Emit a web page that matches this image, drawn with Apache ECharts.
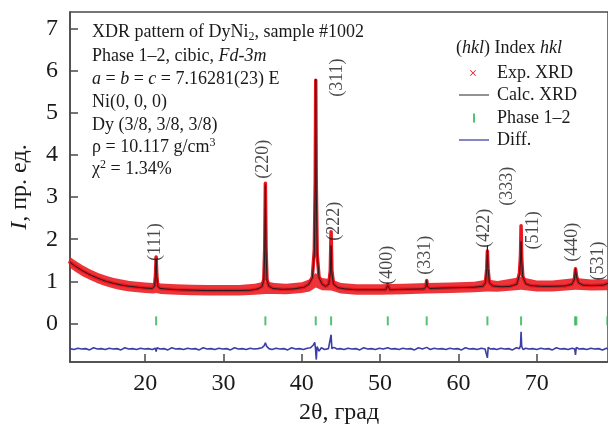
<!DOCTYPE html>
<html>
<head>
<meta charset="utf-8">
<script src="https://cdn.jsdelivr.net/npm/echarts@6/dist/echarts.min.js"></script>
<style>
html,body{margin:0;padding:0;background:#fff;}
#chart{width:608px;height:430px;}
</style>
</head>
<body>
<div id="chart"></div>
<script>
// ---- data ----
const twoTheta = [10.4,11,12,13,14,15,16,17,18,19,20,20.9,21.2,21.32,21.4,21.48,21.6,21.9,22.5,24,26,28,30,32,33.5,34.4,34.9,35.15,35.27,35.35,35.43,35.55,35.8,36.3,37.5,39,40.3,40.9,41.35,41.6,41.72,41.78,41.84,41.96,42.2,42.6,43.05,43.45,43.64,43.74,43.84,44.05,44.6,45.5,47,49,50.7,50.98,51.25,53,55.6,55.85,55.95,56.05,56.35,58,60,62,63.1,63.45,63.62,63.7,63.78,63.95,64.4,65.5,66.6,67.45,67.8,67.93,68,68.08,68.22,68.6,69.2,70.5,72,73.6,74.5,74.82,74.95,75.08,75.35,75.9,77,78.5,78.92,79.05,79.15];
const calcI = [1.45,1.37,1.25,1.15,1.07,1.00,0.95,0.91,0.88,0.86,0.84,0.83,0.88,1.12,1.53,1.12,0.88,0.83,0.82,0.80,0.79,0.78,0.78,0.78,0.79,0.82,0.87,1.02,1.75,3.30,1.75,1.02,0.88,0.83,0.81,0.82,0.86,0.93,1.08,1.65,3.3,5.80,3.3,1.65,1.08,0.93,0.88,0.93,1.2,1.85,1.2,0.93,0.85,0.82,0.80,0.80,0.80,0.90,0.80,0.81,0.82,0.87,1.02,0.87,0.83,0.84,0.85,0.86,0.88,0.96,1.3,1.85,1.3,0.96,0.89,0.87,0.88,0.93,1.15,1.5,1.95,1.45,1.1,0.94,0.90,0.88,0.88,0.89,0.93,1.05,1.30,1.1,0.96,0.91,0.90,0.91,0.94,0.97,0.95];
const expI = [1.45,1.37,1.25,1.15,1.07,1.00,0.95,0.91,0.88,0.86,0.84,0.83,0.90,1.15,1.58,1.15,0.90,0.83,0.82,0.80,0.79,0.78,0.78,0.78,0.79,0.82,0.88,1.05,1.80,3.33,1.80,1.05,0.89,0.83,0.81,0.82,0.86,0.94,1.10,1.75,3.4,5.78,3.4,1.65,1.10,0.94,0.88,0.94,1.25,2.18,1.25,0.94,0.85,0.82,0.80,0.80,0.80,0.92,0.80,0.81,0.82,0.88,1.02,0.88,0.83,0.84,0.85,0.86,0.88,0.97,1.3,1.72,1.3,0.97,0.89,0.87,0.88,0.94,1.2,1.62,2.32,1.55,1.12,0.94,0.90,0.88,0.88,0.89,0.93,1.06,1.30,1.12,0.96,0.91,0.90,0.91,0.94,0.96,0.94];
const bandTheta = [10.4,11,12,13,14,15,16,17,18,19,20,21,21.4,22,24,26,28,30,32,34,35.35,36.5,38,40,41,41.78,42.6,43.74,45,47,50,53,56,59,62,63.7,65,68,70,72,75,77,79.1];
const bandLow = [1.32,1.24,1.12,1.03,0.95,0.88,0.83,0.79,0.76,0.74,0.72,0.71,0.72,0.70,0.68,0.67,0.66,0.66,0.66,0.68,0.70,0.70,0.69,0.72,0.76,0.85,0.79,0.78,0.71,0.68,0.68,0.69,0.71,0.72,0.74,0.76,0.75,0.80,0.76,0.76,0.80,0.78,0.79];
const bandHigh = [1.58,1.50,1.38,1.28,1.20,1.13,1.08,1.04,1.01,0.99,0.97,0.96,0.98,0.95,0.93,0.92,0.91,0.91,0.91,0.94,1.00,0.96,0.94,0.98,1.05,1.20,1.08,1.05,0.96,0.93,0.93,0.94,0.96,0.97,0.99,1.04,1.01,1.10,1.02,1.02,1.08,1.04,1.05];
const diffTheta = [10.4,10.9,11.4,11.9,12.4,12.9,13.4,13.9,14.4,14.9,15.4,15.9,16.4,16.9,17.4,17.9,18.4,18.9,19.4,19.9,20.4,20.9,21.3,21.4,21.5,21.9,22.4,22.9,23.4,23.9,24.4,24.9,25.4,25.9,26.4,26.9,27.4,27.9,28.4,28.9,29.4,29.9,30.4,30.9,31.4,31.9,32.4,32.9,33.4,33.9,34.4,34.9,35.2,35.35,35.5,35.8,36.2,36.7,37.2,37.7,38.2,38.7,39.2,39.7,40.2,40.7,41.1,41.45,41.65,41.75,41.85,41.95,42.2,42.5,42.9,43.4,43.65,43.74,43.84,44.1,44.5,44.9,45.4,45.9,46.4,46.9,47.4,47.9,48.4,48.9,49.4,49.9,50.4,50.98,51.4,51.9,52.4,52.9,53.4,53.9,54.4,54.9,55.4,55.95,56.4,56.9,57.4,57.9,58.4,58.9,59.4,59.9,60.4,60.9,61.4,61.9,62.4,62.9,63.4,63.62,63.7,63.8,64.1,64.5,64.9,65.4,65.9,66.4,66.9,67.4,67.8,67.93,68,68.08,68.25,68.6,69,69.5,70,70.5,71,71.5,72,72.5,73,73.5,74,74.5,74.85,74.95,75.05,75.4,75.9,76.4,76.9,77.4,77.9,78.4,78.9,79.15];
const diffI = [-0.60,-0.62,-0.59,-0.61,-0.60,-0.63,-0.58,-0.61,-0.60,-0.62,-0.59,-0.61,-0.60,-0.63,-0.58,-0.61,-0.60,-0.62,-0.59,-0.61,-0.60,-0.62,-0.59,-0.67,-0.58,-0.61,-0.60,-0.63,-0.58,-0.61,-0.60,-0.62,-0.59,-0.61,-0.60,-0.63,-0.58,-0.61,-0.60,-0.62,-0.59,-0.61,-0.60,-0.63,-0.58,-0.61,-0.60,-0.62,-0.59,-0.61,-0.60,-0.58,-0.53,-0.46,-0.54,-0.60,-0.62,-0.59,-0.61,-0.60,-0.63,-0.58,-0.61,-0.60,-0.62,-0.59,-0.58,-0.52,-0.45,-0.60,-0.86,-0.55,-0.66,-0.58,-0.62,-0.60,-0.56,-0.27,-0.60,-0.57,-0.61,-0.60,-0.62,-0.59,-0.61,-0.60,-0.63,-0.58,-0.61,-0.60,-0.62,-0.59,-0.61,-0.58,-0.61,-0.60,-0.62,-0.59,-0.61,-0.60,-0.63,-0.58,-0.61,-0.57,-0.62,-0.59,-0.61,-0.60,-0.62,-0.59,-0.61,-0.60,-0.63,-0.58,-0.61,-0.60,-0.62,-0.59,-0.61,-0.58,-0.82,-0.57,-0.61,-0.60,-0.62,-0.59,-0.61,-0.60,-0.63,-0.58,-0.60,-0.52,-0.20,-0.55,-0.62,-0.59,-0.61,-0.60,-0.62,-0.59,-0.61,-0.60,-0.63,-0.58,-0.61,-0.60,-0.62,-0.59,-0.61,-0.75,-0.57,-0.61,-0.60,-0.62,-0.59,-0.61,-0.60,-0.63,-0.59,-0.61];
const phaseTheta = [21.40,35.35,41.78,43.74,50.98,55.95,63.70,68.00,74.90,75.06,79.02,79.12];
const phaseLevel = 0.06;
const hklNames = ['(111)','(220)','(311)','(222)','(400)','(331)','(422)','(333)','(511)','(440)','(531)'];
const hklX = [21.3,35.1,44.5,44.15,50.9,55.75,63.3,66.2,69.5,74.6,77.8];
const hklY = [1.93,3.90,5.84,2.43,1.38,1.62,2.26,3.26,2.21,1.93,1.48];
const xTicks = [20,30,40,50,60,70];
const yTicks = [0,1,2,3,4,5,6,7];

// ---- styles ----
const SERIF = 'Liberation Serif';
const AX = '#4a4a4a';
const TXT = '#1a1a1a';
const RED = '#e8161f';
const BAND = 'rgba(234,30,36,0.9)';
const GREEN = '#2bb350';
const BLUE = '#3a3ea6';
const CALC = '#1e1e1e';
const crossIcon = 'path://M0,1L1,0L5,4L9,0L10,1L6,5L10,9L9,10L5,6L1,10L0,9L4,5Z';

const zip = (a, b) => a.map((v, i) => [v, b[i]]);

const chart = echarts.init(document.getElementById('chart'), null, {renderer: 'canvas'});

const annot = [
  {y: 32.5, text: 'XDR pattern of DyNi{sub|2}, sample #1002'},
  {y: 55.8, text: 'Phase 1\u20132, cibic, {i|Fd-3m}'},
  {y: 79.5, text: '{i|a} = {i|b} = {i|c} = 7.16281(23) E'},
  {y: 102.5, text: 'Ni(0, 0, 0)'},
  {y: 125.3, text: 'Dy (3/8, 3/8, 3/8)'},
  {y: 147.6, text: '\u03c1 = 10.117 g/cm{sup|3}'},
  {y: 169.5, text: '\u03c7{sup|2} = 1.34%'}
];
const richBase = {
  i: {fontStyle: 'italic', fontSize: 18, fontFamily: SERIF, fill: TXT, lineHeight: 22},
  sub: {fontSize: 12, fontFamily: SERIF, fill: TXT, lineHeight: 12, padding: [8, 0, 0, 0]},
  sup: {fontSize: 12, fontFamily: SERIF, fill: TXT, lineHeight: 12, padding: [0, 0, 10, 0]}
};
const graphics = annot.map(a => ({
  type: 'text', x: 92, y: a.y, silent: true, z: 100,
  style: {text: a.text, fontSize: 18, fontFamily: SERIF, fill: TXT, lineHeight: 22,
          verticalAlign: 'middle', align: 'left', rich: richBase}
}));
graphics.push({
  type: 'text', x: 456, y: 48, silent: true, z: 100,
  style: {text: '({i|hkl}) Index {i|hkl}', fontSize: 18, fontFamily: SERIF, fill: TXT, lineHeight: 22,
          verticalAlign: 'middle', align: 'left', rich: richBase}
});

const legendText = (pad) => ({fontSize: 18, fontFamily: SERIF, color: TXT, lineHeight: 18, padding: [0, 0, 0, pad]});

const option = {
  animation: false,
  backgroundColor: '#fff',
  grid: {left: 69, top: 12, right: -1, bottom: 67, show: true, borderColor: AX, borderWidth: 1.5, containLabel: false},
  xAxis: {
    type: 'value', min: 10.4, max: 79.1,
    name: '2\u03b8, \u0433\u0440\u0430\u0434', nameLocation: 'middle', nameGap: 25,
    nameTextStyle: {fontSize: 24, fontFamily: SERIF, color: TXT},
    axisLine: {show: true, onZero: false, lineStyle: {color: AX, width: 1.5}},
    axisTick: {show: true, inside: true, length: 8, customValues: xTicks, lineStyle: {color: AX, width: 1.5}},
    axisLabel: {customValues: xTicks, fontSize: 24, fontFamily: SERIF, color: TXT, margin: 10},
    splitLine: {show: false}
  },
  yAxis: {
    type: 'value', min: -0.92, max: 7.4,
    name: '{i|I}, \u043f\u0440. \u0435\u0434.', nameLocation: 'middle', nameGap: 38,
    nameTextStyle: {fontSize: 24, fontFamily: SERIF, color: TXT,
      rich: {i: {fontStyle: 'italic', fontSize: 24, fontFamily: SERIF, color: TXT}}},
    axisLine: {show: true, onZero: false, lineStyle: {color: AX, width: 1.5}},
    axisTick: {show: true, inside: true, length: 8, customValues: yTicks, lineStyle: {color: AX, width: 1.5}},
    axisLabel: {customValues: yTicks, fontSize: 24, fontFamily: SERIF, color: TXT, margin: 12},
    splitLine: {show: false}
  },
  legend: [
    {data: [{name: 'Exp. XRD', icon: crossIcon, itemStyle: {color: RED}}], left: 470, top: 64, orient: 'vertical', padding: 0,
     itemWidth: 6, itemHeight: 6, selectedMode: false, textStyle: legendText(16)},
    {data: [{name: 'Calc. XRD', icon: 'rect', itemStyle: {color: '#6e6e6e'}}], left: 459, top: 86, orient: 'vertical', padding: 0,
     itemWidth: 30, itemHeight: 1.5, selectedMode: false, textStyle: legendText(3)},
    {data: [{name: 'Phase 1\u20132', icon: 'rect', itemStyle: {color: GREEN}}], left: 473, top: 109, orient: 'vertical', padding: 0,
     itemWidth: 2, itemHeight: 9, selectedMode: false, textStyle: legendText(17)},
    {data: [{name: 'Diff.', icon: 'rect', itemStyle: {color: '#5a5cb4'}}], left: 459, top: 131, orient: 'vertical', padding: 0,
     itemWidth: 30, itemHeight: 1.5, selectedMode: false, textStyle: legendText(3)}
  ],
  graphic: graphics,
  series: [
    {
      name: 'expBand', type: 'custom', silent: true, z: 1, clip: true,
      data: bandTheta.map((x, i) => [x, bandLow[i], bandHigh[i]]),
      encode: {x: 0, y: [1, 2]},
      renderItem: (params, api) => {
        if (params.dataIndex !== 0) return null;
        const up = bandTheta.map((x, i) => api.coord([x, bandHigh[i]]));
        const lo = bandTheta.map((x, i) => api.coord([x, bandLow[i]])).reverse();
        return {type: 'polygon', shape: {points: up.concat(lo)}, style: {fill: BAND}};
      }
    },
    {
      name: 'Exp. XRD', type: 'line', data: zip(twoTheta, expI), symbol: 'none', silent: true, z: 2,
      color: RED, lineStyle: {color: RED, width: 3.5, join: 'round', cap: 'round'}
    },
    {
      name: 'Calc. XRD', type: 'line', data: zip(twoTheta, calcI), symbol: 'none', silent: true, z: 3,
      color: CALC, lineStyle: {color: CALC, width: 1}
    },
    {
      name: 'Phase 1\u20132', type: 'scatter', data: phaseTheta.map(x => [x, phaseLevel]), silent: true, z: 2,
      symbol: 'rect', symbolSize: [2, 9], color: GREEN, itemStyle: {color: GREEN}
    },
    {
      name: 'Diff.', type: 'line', data: zip(diffTheta, diffI), symbol: 'none', silent: true, z: 2,
      color: BLUE, lineStyle: {color: BLUE, width: 1.6}
    },
    {
      name: 'hkl', type: 'scatter', silent: true, z: 4, symbolSize: 1,
      itemStyle: {color: 'transparent'},
      data: hklNames.map((n, i) => ({name: n, value: [hklX[i], hklY[i]]})),
      label: {show: true, position: 'inside', rotate: 90, formatter: '{b}',
              fontSize: 18, fontFamily: SERIF, color: TXT}
    }
  ]
};
chart.setOption(option);
</script>
</body>
</html>
